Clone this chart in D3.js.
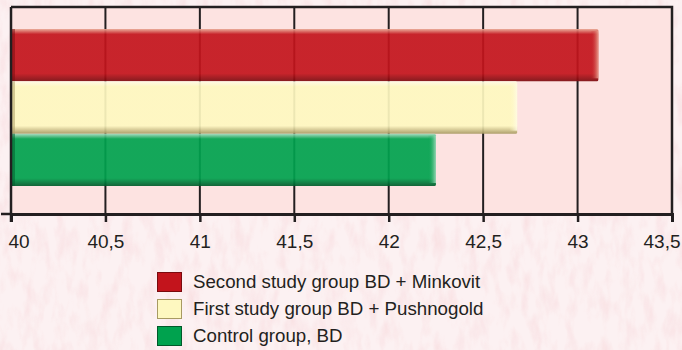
<!DOCTYPE html>
<html>
<head>
<meta charset="utf-8">
<script src="https://cdn.jsdelivr.net/npm/d3@7"></script>
<style>
  html, body { margin: 0; padding: 0; background: #fbeef0; }
  svg { display: block; }
  text { font-family: "Liberation Sans", Arial, Helvetica, sans-serif; fill: #231f20; }
</style>
</head>
<body>
<svg id="chart" width="682" height="350"></svg>
<script>
// Series, top to bottom
const seriesNames = [
  "Second study group BD + Minkovit",
  "First study group BD + Pushnogold",
  "Control group, BD"
];
const seriesValues = [43.11, 42.68, 42.25];
const seriesFill = ["#c3141c", "#fef8c0", "#00a24e"];
const seriesDark = ["#7a0a0e", "#a89a62", "#005a2a"];
const seriesLight = ["#e9a894", "#fffbe6", "#a9dcc0"];

const xTicks = [40, 40.5, 41, 41.5, 42, 42.5, 43, 43.5];
const xDomain = [40, 43.5];

const W = 682, H = 350;
const plot = { left: 11, right: 672, top: 7, bottom: 214 };

const svg = d3.select("#chart");
const defs = svg.append("defs");

// paper texture for the page background
const tex = defs.append("filter").attr("id", "paper")
  .attr("x", 0).attr("y", 0).attr("width", "100%").attr("height", "100%");
tex.append("feTurbulence").attr("type", "fractalNoise")
  .attr("baseFrequency", "0.09 0.035").attr("numOctaves", 3).attr("seed", 7).attr("result", "n");
tex.append("feColorMatrix").attr("in", "n").attr("type", "matrix")
  .attr("values", "0 0 0 0 0.93  0 0 0 0 0.68  0 0 0 0 0.70  1.8 0 0 0 -0.78")
  .attr("result", "c");
tex.append("feComposite").attr("in", "c").attr("in2", "SourceGraphic").attr("operator", "in");

svg.append("rect").attr("width", W).attr("height", H).attr("fill", "#fcf1f2");
svg.append("rect").attr("width", W).attr("height", H).attr("fill", "#fff")
  .attr("filter", "url(#paper)").attr("opacity", 0.7);

// bevel gradients for the bars
seriesNames.forEach((n, i) => {
  const g = defs.append("linearGradient").attr("id", "bar" + i)
    .attr("x1", 0).attr("y1", 0).attr("x2", 0).attr("y2", 1);
  g.append("stop").attr("offset", 0).attr("stop-color", seriesLight[i]);
  g.append("stop").attr("offset", 0.1).attr("stop-color", seriesFill[i]);
  g.append("stop").attr("offset", 0.85).attr("stop-color", seriesFill[i]);
  g.append("stop").attr("offset", 1).attr("stop-color", seriesDark[i]);
  const e = defs.append("linearGradient").attr("id", "edge" + i)
    .attr("x1", 0).attr("y1", 0).attr("x2", 1).attr("y2", 0);
  e.append("stop").attr("offset", 0).attr("stop-color", seriesFill[i]).attr("stop-opacity", 0);
  e.append("stop").attr("offset", 1).attr("stop-color", seriesLight[i]).attr("stop-opacity", 0.9);
});

const x = d3.scaleLinear().domain(xDomain).range([plot.left, plot.right]);
const y = d3.scaleBand().domain(seriesNames).range([29, 186]).padding(0);

// plot area
svg.append("rect")
  .attr("x", plot.left).attr("y", plot.top)
  .attr("width", plot.right - plot.left).attr("height", plot.bottom - plot.top)
  .attr("fill", "#fde3e1");

// vertical grid lines
svg.append("g").selectAll("line").data(xTicks).join("line")
  .attr("x1", d => x(d)).attr("x2", d => x(d))
  .attr("y1", plot.top).attr("y2", plot.bottom)
  .attr("stroke", "#231f20").attr("stroke-width", 2);

// bars
const bars = svg.append("g").selectAll("g").data(seriesNames).join("g");
bars.append("rect")
  .attr("x", x(xDomain[0]))
  .attr("y", d => y(d))
  .attr("width", (d, i) => x(seriesValues[i]) - x(xDomain[0]))
  .attr("height", y.bandwidth())
  .attr("rx", 1.5)
  .attr("fill", (d, i) => `url(#bar${i})`)
  .attr("fill-opacity", 0.92);
// light rim on the bar ends
bars.append("rect")
  .attr("x", (d, i) => x(seriesValues[i]) - 8)
  .attr("y", d => y(d) + 2)
  .attr("width", 8)
  .attr("height", y.bandwidth() - 5)
  .attr("fill", (d, i) => `url(#edge${i})`);
// darker left edge
bars.append("rect")
  .attr("x", x(xDomain[0]))
  .attr("y", d => y(d))
  .attr("width", 4)
  .attr("height", y.bandwidth())
  .attr("fill", (d, i) => seriesDark[i])
  .attr("opacity", 0.5);

// frame: top and right borders
svg.append("path")
  .attr("d", `M${plot.left},${plot.top}H${plot.right}V${plot.bottom}`)
  .attr("fill", "none").attr("stroke", "#231f20").attr("stroke-width", 2.5);

// y axis line with its single tick
svg.append("path")
  .attr("d", `M${plot.left},${plot.top}V${plot.bottom + 8}M1,${plot.bottom}H${plot.left}`)
  .attr("fill", "none").attr("stroke", "#231f20").attr("stroke-width", 2.5);

// x axis
const xAxis = d3.axisBottom(x)
  .tickValues(xTicks)
  .tickSize(8)
  .tickFormat(d => String(d).replace(".", ","));
const ax = svg.append("g").attr("transform", `translate(0,${plot.bottom})`).call(xAxis);
ax.select(".domain").attr("stroke", "#231f20").attr("stroke-width", 3);
ax.selectAll(".tick line").attr("stroke", "#231f20").attr("stroke-width", 2.5);
ax.selectAll(".tick text")
  .attr("font-size", 19)
  .attr("font-family", '"Liberation Sans", Arial, sans-serif')
  .attr("fill", "#231f20")
  .attr("dy", 0).attr("y", 34);
// keep the end labels inside the page
ax.selectAll(".tick text").each(function (d) {
  const t = d3.select(this);
  if (d === xTicks[0]) t.attr("text-anchor", "start").attr("x", 8 - x(d));
  if (d === xTicks[xTicks.length - 1]) t.attr("text-anchor", "end").attr("x", 680 - x(d));
});

// legend
const leg = svg.append("g").attr("transform", "translate(157,272)");
const rows = leg.selectAll("g").data(seriesNames).join("g")
  .attr("transform", (d, i) => `translate(0,${i * 27})`);
rows.append("rect")
  .attr("x", 0.5).attr("y", 0.5).attr("width", 24).attr("height", 19)
  .attr("fill", (d, i) => seriesFill[i])
  .attr("stroke", (d, i) => seriesDark[i]).attr("stroke-width", 1);
rows.append("text")
  .attr("x", 36).attr("y", 16)
  .attr("font-size", 18.7)
  .text(d => d);
</script>
</body>
</html>
